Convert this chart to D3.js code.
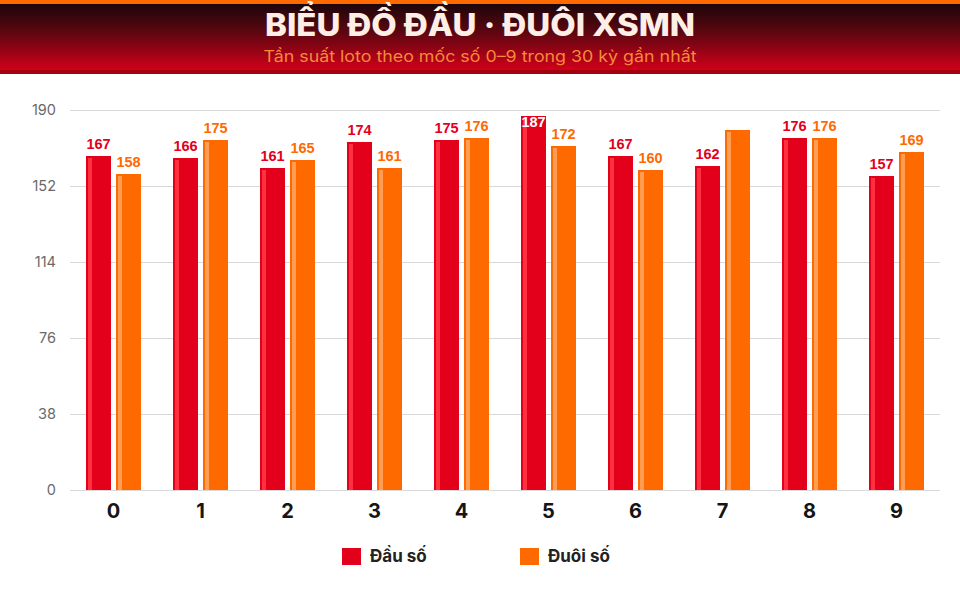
<!DOCTYPE html>
<html><head><meta charset="utf-8">
<script src="https://cdn.jsdelivr.net/npm/d3@7"></script>
<style>html,body{margin:0;padding:0;background:#fff;}svg{display:block;}</style>
</head><body>
<svg id="c" width="960" height="600"></svg>
<script>
const categories = ["0","1","2","3","4","5","6","7","8","9"];
const dauSo = [167,166,161,174,175,187,167,162,176,157];
const duoiSo = [158,175,165,161,176,172,160,180,176,169];
const yTicks = [0,38,76,114,152,190];
const seriesNames = ["Đầu số","Đuôi số"];
const title = "BIỂU ĐỒ ĐẦU · ĐUÔI XSMN";
const subtitle = "Tần suất loto theo mốc số 0–9 trong 30 kỳ gần nhất";

const svg = d3.select("#c");
const W = 960, H = 600;
const colors = ["#e3001b", "#ff6a00"];
const stripeColors = ["#ff3040", "#ff9d55"];

// header
const defs = svg.append("defs");
const g = defs.append("linearGradient").attr("id","hg").attr("x1",0).attr("y1",0).attr("x2",0).attr("y2",1);
g.append("stop").attr("offset","0%").attr("stop-color","#14060a");
g.append("stop").attr("offset","45%").attr("stop-color","#5c0610");
g.append("stop").attr("offset","100%").attr("stop-color","#d4001b");
svg.append("rect").attr("x",0).attr("y",0).attr("width",W).attr("height",71).attr("fill","url(#hg)");
svg.append("rect").attr("x",0).attr("y",0).attr("width",W).attr("height",4).attr("fill","#ff6a00");
svg.append("rect").attr("x",0).attr("y",70).attr("width",W).attr("height",4).attr("fill","#a3000f");
svg.append("text").attr("x",480).attr("y",36).attr("text-anchor","middle")
  .attr("font-family","Inter, Roboto, sans-serif").attr("font-weight",800).attr("font-size",31)
  .attr("fill","#fdeee6").attr("textLength",430).attr("lengthAdjust","spacingAndGlyphs").text(title);
svg.append("text").attr("x",480).attr("y",62).attr("text-anchor","middle")
  .attr("font-family","Inter, Roboto, sans-serif").attr("font-size",16)
  .attr("fill","#f58a38").attr("textLength",433).attr("lengthAdjust","spacingAndGlyphs").text(subtitle);

// scales
const pLeft = 70, pRight = 940, pTop = 110, pBottom = 490;
const x0 = d3.scaleBand().domain(categories).range([pLeft, pRight]).padding(0);
const x1 = d3.scaleBand().domain([0,1]).range([0,55]).paddingInner(1/6);
const y = d3.scaleLinear().domain([0,190]).range([pBottom, pTop]);

// grid
const grid = svg.append("g");
grid.selectAll("line").data(yTicks).join("line")
  .attr("x1",pLeft).attr("x2",pRight).attr("y1",d=>y(d)+0.5).attr("y2",d=>y(d)+0.5)
  .attr("stroke","#d9d9d9").attr("stroke-width",1);

const yAxis = d3.axisLeft(y).tickValues(yTicks).tickSize(0).tickPadding(0);
const ya = svg.append("g").attr("transform",`translate(${56},0)`).call(yAxis);
ya.select(".domain").remove();
ya.selectAll("text").attr("font-family","Inter, 'Noto Sans', sans-serif").attr("font-size",14.5)
  .attr("fill","#6a6a6a").attr("dy","0.35em").attr("y",-1);

const xAxis = d3.axisBottom(x0).tickSize(0).tickPadding(0);
const xa = svg.append("g").attr("transform",`translate(0,${pBottom})`).call(xAxis);
xa.select(".domain").remove();
xa.selectAll("text").attr("font-family","Inter, 'Noto Sans', sans-serif").attr("font-size",20)
  .attr("font-weight",700).attr("fill","#151515").attr("y",28).attr("dy",0);

// bars
const series = [dauSo, duoiSo];
const data = [];
categories.forEach((c,i)=>{ series.forEach((s,k)=>{ data.push({c, k, v:s[i]}); }); });
const groupOffset = (x0.bandwidth()-55)/2;
const bars = svg.append("g");
const bx = d => x0(d.c) + groupOffset + x1(d.k);
bars.selectAll("rect.bar").data(data).join("rect").attr("class","bar")
  .attr("x",bx).attr("y",d=>y(d.v)).attr("width",x1.bandwidth()).attr("height",d=>y(0)-y(d.v))
  .attr("fill",d=>colors[d.k]);
bars.selectAll("rect.stripe").data(data).join("rect").attr("class","stripe")
  .attr("x",d=>bx(d)+2).attr("y",d=>y(d.v)+2).attr("width",4).attr("height",d=>y(0)-y(d.v)-2)
  .attr("fill",d=>stripeColors[d.k]);

// labels
bars.selectAll("text").data(data).join("text")
  .attr("x",d=>bx(d)+x1.bandwidth()/2)
  .attr("y",d=>d.v>=180 ? Math.max(y(d.v)-8, 127) : y(d.v)-7)
  .attr("text-anchor","middle")
  .attr("font-family","'Liberation Sans', Arial, sans-serif").attr("font-weight",700).attr("font-size",14.5)
  .attr("fill",d=>d.v>=180 ? "#ffffff" : colors[d.k])
  .text(d=>d.v);

// legend
const lg = svg.append("g");
const lx = [342, 520];
seriesNames.forEach((n,k)=>{
  lg.append("rect").attr("x",lx[k]).attr("y",548).attr("width",19).attr("height",17).attr("fill",colors[k]);
  lg.append("text").attr("x",lx[k]+28).attr("y",562)
    .attr("font-family","Inter, 'Noto Sans', sans-serif").attr("font-weight",700).attr("font-size",17)
    .attr("fill","#222").text(n);
});
</script>
</body></html>
